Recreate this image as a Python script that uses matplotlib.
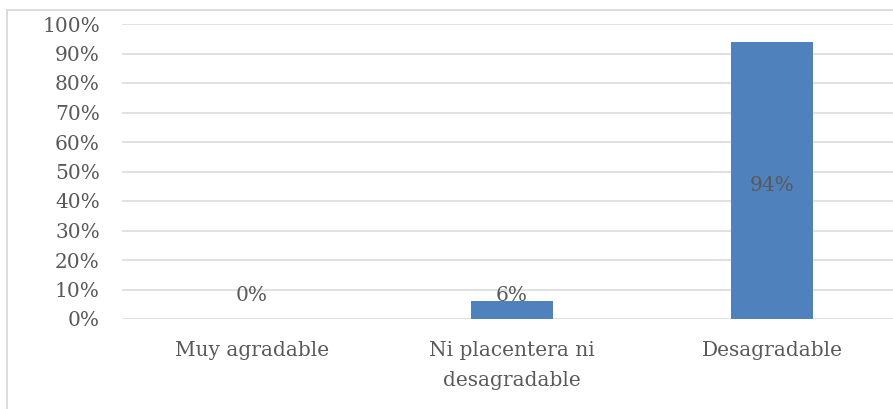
import matplotlib
matplotlib.use("Agg")
import matplotlib.pyplot as plt
from matplotlib.patches import Rectangle
from matplotlib.ticker import PercentFormatter

categories = ["Muy agradable", "Ni placentera ni\ndesagradable", "Desagradable"]
values = [0.0, 0.06, 0.94]
labels = ["0%", "6%", "94%"]
yticks = [0, 0.1, 0.2, 0.3, 0.4, 0.5, 0.6, 0.7, 0.8, 0.9, 1.0]

W, H = 893, 409
fig = plt.figure(figsize=(W / 100, H / 100), dpi=100)
plt.rcParams['font.family'] = ['DejaVu Serif']
txt = '#595959'
fs = 14.5

# outer chart border (cropped on right and bottom)
fig.patches.append(Rectangle((7 / W, -0.1), 1.2, (H - 10) / H + 0.1, transform=fig.transFigure,
                             fill=False, edgecolor='#D9D9D9', linewidth=1.3))

x0, x1 = 122, 122 + 780
ytop, ybot = 24, 319
ax = fig.add_axes([x0 / W, (H - ybot) / H, (x1 - x0) / W, (ybot - ytop) / H])
ax.set_xlim(-0.5, 2.5)
ax.set_ylim(0, 1)
xs = range(len(categories))
ax.bar(xs, values, width=0.315, color='#4F81BD', zorder=3)
for s in ax.spines.values():
    s.set_visible(False)
ax.set_yticks(yticks)
ax.yaxis.set_major_formatter(PercentFormatter(1.0, decimals=0))
ax.grid(axis='y', color='#D9D9D9', linewidth=1.1, zorder=0)
ax.set_xticks(list(xs))
ax.set_xticklabels(categories, fontsize=fs, color=txt, linespacing=1.75)
ax.tick_params(axis='x', length=0, pad=15.5)
ax.tick_params(axis='y', length=0, pad=16, labelsize=fs, labelcolor=txt)
for x, v, lab in zip(xs, values, labels):
    y = v / 2 - 0.016 if v > 0.5 else max(v + 0.012, 0.078)
    ax.text(x, y, lab, ha='center', va='center', fontsize=fs, color=txt, zorder=4)

fig.savefig('out.png', dpi=100)
